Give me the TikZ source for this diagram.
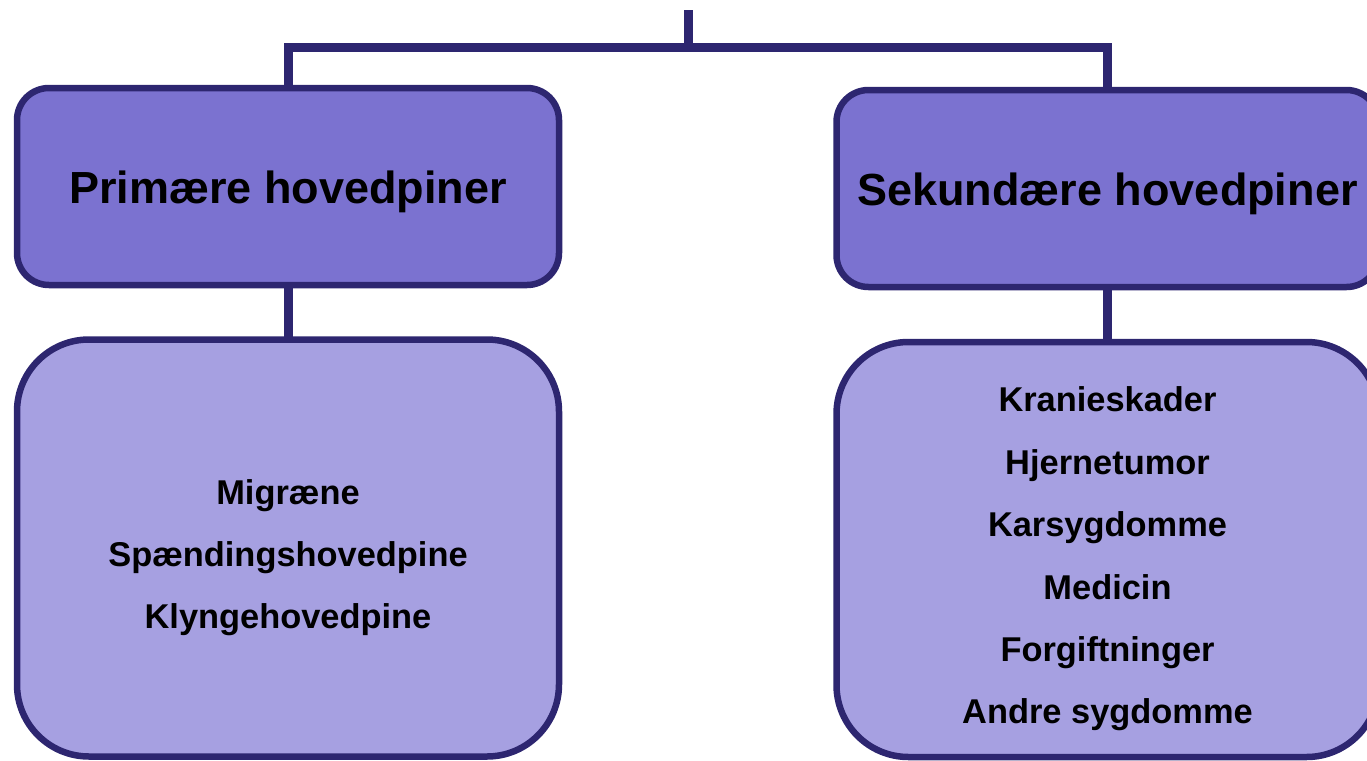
\documentclass[tikz,border=0pt]{standalone}
\usepackage{fontspec}
\setmainfont{Liberation Sans}
\definecolor{navy}{RGB}{45,38,112}
\definecolor{headfill}{RGB}{123,114,208}
\definecolor{listfill}{RGB}{166,160,225}
\tikzset{
  box/.style={draw=navy, line width=3.25pt, minimum width=271pt, inner sep=0pt, outer sep=0pt},
  headbox/.style={box, fill=headfill, rounded corners=16pt, minimum height=98.5pt},
  listbox/.style={box, fill=listfill, rounded corners=36pt},
  headtext/.style={font=\fontsize{22.5}{27}\selectfont\bfseries, align=center, yshift=-2.5pt},
  listtext/.style={font=\fontsize{17.2}{31.2}\selectfont\bfseries, align=center, yshift=-4.8pt},
  conn/.style={draw=navy, line width=4.5pt, line join=miter}
}
\begin{document}
\begin{tikzpicture}[x=0.5pt,y=-0.5pt]
\useasboundingbox (0,0) rectangle (1367,761);
\coordinate (top) at (688,10);
\coordinate (bar) at (688,47.5);
\node[headbox] (p) at (288,186.5) {};
\node[headtext] (pt) at (p.center) {Primære hovedpiner};
\node[headbox] (s) at (1107.5,188.5) {};
\node[headtext] (st) at (s.center) {Sekundære hovedpiner};
\node[listbox, minimum height=208.5pt] (pl) at (288,548) {};
\node[listtext] (plt) at (pl.center) {Migræne\\Spændingshovedpine\\Klyngehovedpine};
\node[listbox, minimum height=207.5pt] (sl) at (1107.5,549.5) {};
\node[listtext] (slt) at (sl.center) {Kranieskader\\Hjernetumor\\Karsygdomme\\Medicin\\Forgiftninger\\Andre sygdomme};
\draw[conn] (top) -- (bar);
\draw[conn] (p.north) |- (bar) -| (s.north);
\draw[conn] (p.south) -- (pl.north);
\draw[conn] (s.south) -- (sl.north);
\end{tikzpicture}
\end{document}
